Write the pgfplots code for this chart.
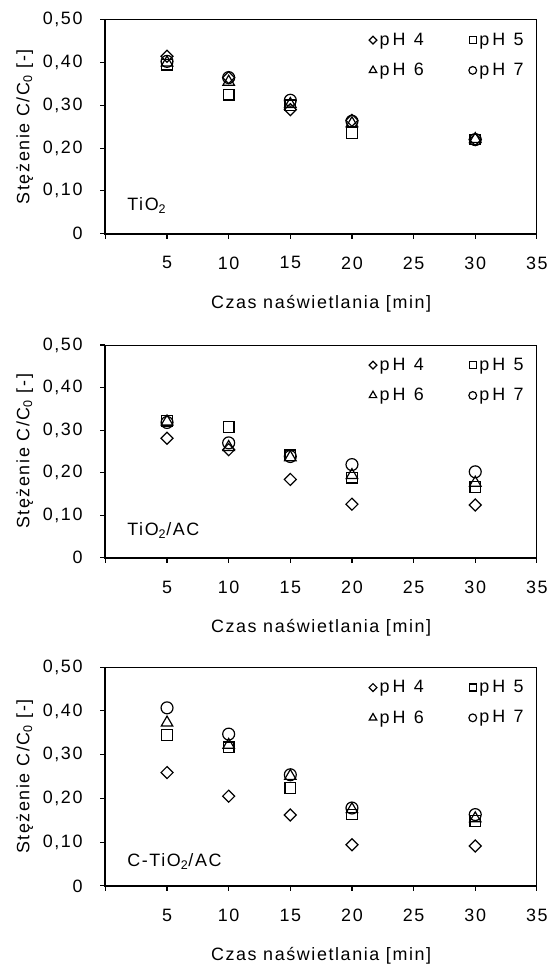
\documentclass[border=0pt]{standalone}
\usepackage{fontspec}
\setmainfont{Liberation Sans}[LetterSpace=9]
\usepackage{pgfplots}
\usepackage{pgfplotstable}
\pgfplotsset{compat=1.18}

% czas [min], C/C0 dla pH 4..7
\pgfplotstableread{
t   ph4    ph5    ph6    ph7
5   0.415  0.395  0.400  0.403
10  0.365  0.325  0.355  0.365
15  0.290  0.300  0.303  0.312
20  0.265  0.235  0.258  0.263
30  0.220  0.220  0.221  0.220
}\tioA
\pgfplotstableread{
t   ph4    ph5    ph6    ph7
5   0.281  0.322  0.320  0.318
10  0.254  0.307  0.260  0.270
15  0.184  0.241  0.236  0.238
20  0.126  0.188  0.194  0.219
30  0.124  0.166  0.176  0.202
}\tioB
\pgfplotstableread{
t   ph4    ph5    ph6    ph7
5   0.259  0.345  0.373  0.407
10  0.205  0.317  0.322  0.347
15  0.162  0.224  0.251  0.254
20  0.094  0.163  0.175  0.178
30  0.091  0.148  0.154  0.163
}\tioC

\newcommand{\fs}{\fontsize{13.5}{16}\selectfont}
\newcommand{\fl}{\fontsize{13.5}{16}\selectfont\addfontfeature{LetterSpace=18}}

\pgfplotsset{
  panel/.style={
    scale only axis, width=325.5pt, clip=false,
    xmin=0, xmax=35, ymin=0, ymax=0.5,
    xtick={0,5,10,15,20,25,30,35}, xticklabels={,5,10,15,20,25,30,35},
    ytick={0,0.1,0.2,0.3,0.4,0.5},
    yticklabels={0,{0,10},{0,20},{0,30},{0,40},{0,50}},
    xtick pos=bottom, ytick pos=left,
    tick align=outside, major tick length=3.75pt,
    tick style={black, line width=0.9pt},
    axis line style={line width=0.6pt},
    tick label style={font=\fs},
    label style={font=\fs},
    xticklabel style={yshift=-10pt},
    yticklabel style={xshift=-10pt},
    xlabel={Czas naświetlania [min]},
    ylabel={Stężenie C/C\textsubscript{0} [-]},
    xlabel style={at={(rel axis cs:0.5,0)}, anchor=center, yshift=-53pt},
    ylabel style={at={(axis description cs:-0.187,0.5)}, anchor=center},
    legend columns=2,
    legend cell align=left,
    legend style={draw=none, fill=none, font=\fl, at={(rel axis cs:0.985,0.965)}, anchor=north east,
      row sep=8pt, /tikz/every even column/.append style={column sep=32pt}},
    legend image code/.code={\draw[#1, every mark/.append style={scale=0.65}] plot coordinates {(0pt,0pt)};},
  },
  s4/.style={only marks, line width=0.9pt, mark=square, mark size=3.2pt, mark options={rotate=45}},
  s5/.style={only marks, line width=0.9pt, mark=square, mark size=4pt},
  s6/.style={only marks, line width=0.9pt, mark=triangle, mark size=5pt},
  s7/.style={only marks, line width=0.9pt, mark=o, mark size=4.5pt},
}

\begin{document}
\begin{tikzpicture}
\path (-79.5pt,176.25pt) rectangle (338.25pt,-550.5pt);

\begin{axis}[panel, height=161.25pt, at={(0,0)}, anchor=south west]
\addplot[s4] table[x=t, y=ph4] {\tioA};
\addplot[s5] table[x=t, y=ph5] {\tioA};
\addplot[s6] table[x=t, y=ph6] {\tioA};
\addplot[s7] table[x=t, y=ph7] {\tioA};
\legend{pH 4,pH 5,pH 6,pH 7}
\node[anchor=west, font=\fs] at (rel axis cs:0.04,0.13) {TiO\textsubscript{2}};
\draw[line width=1.5pt] (rel axis cs:0,1) |- (rel axis cs:1,0);
\end{axis}

\begin{axis}[panel, height=160.5pt, at={(0,-244.5pt)}, anchor=south west]
\addplot[s4] table[x=t, y=ph4] {\tioB};
\addplot[s5] table[x=t, y=ph5] {\tioB};
\addplot[s6] table[x=t, y=ph6] {\tioB};
\addplot[s7] table[x=t, y=ph7] {\tioB};
\legend{pH 4,pH 5,pH 6,pH 7}
\node[anchor=west, font=\fs] at (rel axis cs:0.04,0.13) {TiO\textsubscript{2}/AC};
\draw[line width=1.5pt] (rel axis cs:0,1) |- (rel axis cs:1,0);
\end{axis}

\begin{axis}[panel, height=165pt, at={(0,-492pt)}, anchor=south west]
\addplot[s4] table[x=t, y=ph4] {\tioC};
\addplot[s5] table[x=t, y=ph5] {\tioC};
\addplot[s6] table[x=t, y=ph6] {\tioC};
\addplot[s7] table[x=t, y=ph7] {\tioC};
\legend{pH 4,pH 5,pH 6,pH 7}
\node[anchor=west, font=\fs] at (rel axis cs:0.04,0.11) {C-TiO\textsubscript{2}/AC};
\draw[line width=1.5pt] (rel axis cs:0,1) |- (rel axis cs:1,0);
\end{axis}
\end{tikzpicture}
\end{document}
